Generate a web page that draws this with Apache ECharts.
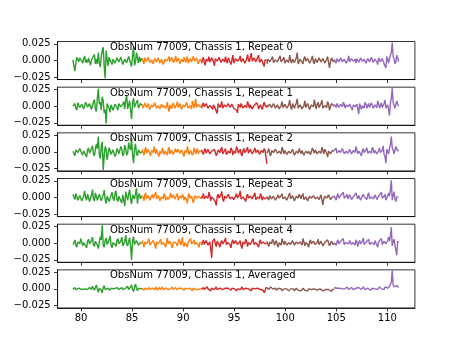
<!DOCTYPE html>
<html>
<head>
<meta charset="utf-8">
<script src="https://cdn.jsdelivr.net/npm/echarts@6/dist/echarts.min.js"></script>
<style>
html,body{margin:0;padding:0;background:#fff;}
#c{width:461px;height:346px;}
</style>
</head>
<body>
<div id="c"></div>
<script>
// ---- data (y values in units of 1e-3) ----
const PANEL_TITLES = [
  "ObsNum 77009, Chassis 1, Repeat 0",
  "ObsNum 77009, Chassis 1, Repeat 1",
  "ObsNum 77009, Chassis 1, Repeat 2",
  "ObsNum 77009, Chassis 1, Repeat 3",
  "ObsNum 77009, Chassis 1, Repeat 4",
  "ObsNum 77009, Chassis 1, Averaged"
];
const X_TICKS = [80, 85, 90, 95, 100, 105, 110];
const Y_TICKS = [-0.025, 0.000, 0.025];
const Y_UNIT = 1e-3;
// frequency band edges (green, orange, red, brown, purple)
const BAND_START = [79.2, 86.0, 91.8, 98.2, 104.8];
const BAND_END   = [86.0, 91.8, 98.2, 104.8, 111.1];

const rep0 = [
  [1,3,-16,-4,5,2,-2,4,6,-1,-4,2,7,-3,1,-3,4,-2,-7,1,3,-1,9,-5,2,-5,12,-3,-10,6,15,20,-8,-27,15,2,-8,5,4,-3,-6,2,3,-4,-5,4,6,-2,-3,5,5,-6,-8,2,4,-3,-2,6,8,-4,-9,7,21,-7,-3,12,4,-4,6,-2,3,1],
  [3,-2,-5,4,6,-1,-2,5,7,-3,-4,1,2,-5,-6,3,5,-2,-1,4,6,-4,-5,2,3,-6,-7,2,4,-1,0,3,6,-2,-4,5,2,-3,-5,1,7,-2,-3,4,4,-5,-6,2,1,-2,5,3,-3,-1,6,-4,-5,3,2,-2,-4,6,7,-1,-2,4,3,-5,-6,2,4,-1],
  [-4,1,5,-3,-7,2,2,-1,6,-2,-3,4,4,-2,-8,3,3,-1,-2,5,7,-3,-5,2,1,-2,6,-1,-4,4,3,-3,-6,1,8,-4,-2,3,5,-1,-3,2,7,-2,-1,3,4,-4,-5,2,9,1,-2,5,11,-1,-3,4,6,-2,-1,5,8,-3,-4,2,3,-5,-9,1,2,0],
  [-5,2,4,-2,-2,3,6,-3,-4,1,3,-2,-1,4,7,-2,-3,2,5,-4,-6,1,2,-3,8,1,-4,2,4,-3,-2,4,12,-5,-7,2,3,-2,-5,3,6,-1,-2,3,4,-4,-3,2,7,-2,-5,3,2,-3,-1,4,5,-2,-4,3,3,-4,-6,2,6,-3,-11,-2,4,1,-2,0],
  [2,-1,-4,3,5,-2,-1,4,6,-2,-3,2,3,-4,-5,1,7,-2,-2,3,4,-1,0,2,-4,3,5,-3,-2,4,6,-1,-3,2,2,-4,-5,3,4,-2,-1,5,7,-3,-3,2,3,-2,-6,4,5,-2,-2,3,4,-5,-3,-11,6,2,-4,3,5,12,27,6,3,-5,-2,8,4,-2]
];
const rep1 = [
  [0,2,4,-3,-6,5,7,-2,-2,3,5,-4,-4,6,8,-1,-3,4,6,-5,-5,7,10,-4,-8,12,26,3,6,-6,14,8,-10,-5,-26,4,5,-3,-9,2,4,-6,-5,3,3,-2,-6,4,5,-1,-2,3,7,-4,9,16,-4,2,8,-6,-19,5,12,-2,3,6,9,-3,-2,4,5,1],
  [2,-3,-4,5,6,-2,-3,4,5,-5,-7,2,3,-1,-1,5,7,-3,-5,1,2,-4,-6,3,4,-2,1,3,-3,-1,6,-4,-8,2,3,-4,-2,5,5,-3,-4,2,7,-2,-1,4,3,-5,-6,2,4,-1,-2,6,6,-3,-5,1,2,-4,8,3,-3,4,11,-2,-4,3,5,-1,-2,1],
  [-3,2,5,-1,-2,4,6,-3,-4,1,3,-2,-5,2,4,-4,-6,-11,4,3,-2,1,7,-3,-5,2,2,-1,-3,4,6,-2,-1,3,5,-3,-4,-2,-6,-10,3,1,-2,4,6,-3,-5,1,2,-2,7,3,-3,2,4,-4,-6,1,3,-1,5,2,-4,-2,2,4,-5,-3,6,1,-1,-2],
  [2,-1,-3,3,5,-2,-1,4,6,-3,-2,2,3,-4,-4,1,7,-2,0,3,4,-3,-3,2,9,-1,-5,4,6,-3,-2,5,11,-3,-4,2,3,-4,-6,1,8,-2,-2,4,5,-5,-7,2,3,-1,10,2,-4,3,6,-2,-3,4,9,-3,-5,1,2,-2,7,3,-6,-1,4,2,1,0],
  [3,1,-2,4,5,-2,-4,3,2,-1,6,3,-3,2,4,-1,-1,3,5,-3,-6,2,3,-1,-2,3,-4,-12,4,2,-5,1,2,-3,6,3,-3,1,4,-2,-2,5,7,-3,-4,2,3,-2,8,4,-3,1,5,-2,-2,4,9,-3,-4,2,-6,-14,5,12,27,6,5,-3,-2,8,3,0]
];
const rep2 = [
  [1,-2,-6,3,4,-1,-3,5,7,-2,-5,1,2,-4,-8,3,6,-2,-4,5,9,-3,-6,4,12,5,23,-4,-10,8,15,-27,-6,8,4,-12,-3,6,2,-4,-2,3,3,-7,-4,5,2,-3,-1,8,4,-6,-3,10,5,-5,-2,14,6,3,21,-5,-17,4,12,-2,-6,3,4,-2,-1,1],
  [4,-1,-5,3,7,-2,-2,4,5,-3,-6,2,3,-1,8,2,-3,4,5,-4,-7,1,2,-3,6,2,-4,1,3,-2,-5,4,7,-3,-2,3,4,-4,-6,2,5,-1,-3,4,6,-2,-1,3,3,-4,-7,2,4,-1,8,3,-4,-2,2,4,-5,-2,6,2,-3,1,5,-3,-2,2,3,0],
  [3,-1,-4,2,5,-2,-2,4,6,-3,-5,1,2,-1,4,3,-6,-2,3,1,-1,4,7,-3,-3,2,5,-4,-4,1,2,-2,6,3,-5,1,3,-2,8,4,-2,1,4,-3,-6,2,5,-1,-3,3,7,-2,-1,4,3,-3,-5,2,6,-1,-2,3,4,-4,-4,2,3,-1,5,2,-8,-18],
  [-2,1,5,-3,-6,2,3,-1,-1,4,6,-2,-4,1,2,-3,7,3,-3,2,4,-4,-5,1,3,-2,-2,4,6,-5,-6,1,2,-2,5,3,-3,2,4,-5,-7,1,3,-2,1,3,-4,-2,6,2,-2,3,4,-3,-5,1,3,-2,7,2,-3,4,5,-2,-8,1,2,-3,-4,2,3,1],
  [2,1,6,-2,-3,2,4,-1,-1,5,7,-3,-4,1,3,-2,-2,4,5,-3,-5,2,4,-1,8,3,-3,1,2,-3,-6,2,5,-1,-1,3,6,-2,-4,1,3,-2,7,4,-2,2,4,-3,-5,2,6,-1,-3,2,9,-4,-7,-17,4,2,-3,6,11,23,6,3,-3,2,8,4,2,1]
];
const rep3 = [
  [5,1,-3,6,8,-4,-6,3,4,-5,-7,2,10,-1,-4,5,6,-6,-8,3,12,-2,-5,7,9,-4,-3,5,7,-5,-6,4,11,-3,-9,2,4,-6,-7,3,8,-1,-5,6,10,-3,-6,2,3,-5,-8,4,6,-13,9,2,-4,5,12,-3,-10,4,5,-2,6,14,-9,3,6,-2,2,1],
  [3,-1,-5,4,7,-2,-2,3,4,-4,-6,2,5,-1,-3,4,8,-2,-1,3,4,-5,-7,1,2,-2,6,3,-4,1,3,-3,-5,2,7,-1,-3,4,5,-2,-2,3,6,-4,-6,2,3,-1,5,2,-4,1,2,-3,-9,3,6,-1,-3,2,4,-8,-8,3,5,-1,-2,2,3,1,-1,2],
  [-2,1,6,-2,-4,2,3,-1,8,3,-5,1,2,-2,-3,-6,-12,2,5,-1,-2,4,9,-3,-6,2,4,-1,-1,5,7,-2,-3,1,2,-3,-5,2,6,-1,-2,4,10,-2,-4,1,3,-3,-6,2,5,-1,-1,2,4,-2,-3,4,7,-3,-5,1,2,-2,6,3,-4,1,3,-2,-1,0],
  [2,-1,-4,3,5,-2,-1,2,3,-4,-6,1,4,-1,-2,3,6,-2,-3,1,2,-4,-5,3,7,-2,-1,3,4,-5,-6,2,3,-1,5,2,-2,3,6,-3,-4,1,2,-5,-7,2,4,-1,-1,3,5,-2,-3,1,2,-3,-4,4,6,-11,-2,2,3,-1,-2,4,5,-3,-5,1,2,1],
  [3,-1,-4,2,6,-1,-2,3,4,2,8,-1,-3,2,5,-2,-1,4,6,-3,-5,1,3,-1,7,2,-2,3,4,-4,-6,2,5,1,2,-1,-3,4,7,-2,-4,1,3,-2,-2,4,6,-3,-5,2,4,1,8,-1,-3,2,5,-4,-6,3,7,2,12,26,-4,3,9,-2,-6,1,3,1]
];
const rep4 = [
  [-2,1,5,-3,-6,2,3,-1,7,2,-4,1,2,-4,-7,3,6,-1,-3,4,9,-2,-5,3,4,-3,-8,2,10,5,27,-3,-6,4,8,-2,-4,5,11,-3,-7,1,3,-2,-5,4,7,-1,-2,3,9,-4,-6,2,12,-1,-4,3,8,-5,-25,3,10,-2,-3,4,6,-3,-5,1,2,0],
  [4,-2,-6,2,3,-1,-2,4,7,-3,-5,1,2,4,5,-3,-8,2,4,-1,-1,3,6,-2,-4,1,3,-3,-6,2,8,-1,-2,3,5,-4,-7,1,3,-1,1,2,-4,-2,6,3,-3,1,9,-2,-5,1,2,-3,-6,2,4,3,7,-1,-3,2,5,-2,-4,1,2,-3,-6,1,3,1],
  [-3,1,5,-2,-2,4,6,-3,-4,2,-8,-22,3,2,7,-1,-5,3,2,-2,-6,1,4,-1,-1,3,8,-2,-4,1,3,-3,-7,2,5,-1,-2,4,6,-2,-3,1,4,-4,-8,2,2,-1,6,3,-5,1,3,-2,-1,4,7,-2,-4,1,2,-3,-6,2,5,-1,-3,2,4,-1,1,0],
  [3,-1,-5,2,2,-1,6,3,-3,1,4,-2,-6,1,2,-3,7,2,-2,3,5,-3,-4,1,3,-2,-1,4,6,-3,-5,2,4,-1,-3,2,2,-3,7,2,-4,1,3,-2,-6,2,5,-1,-2,3,4,-2,-3,1,6,-2,-1,3,3,-4,-5,1,2,-1,5,3,-4,-2,3,1,-2,0],
  [1,-1,-3,2,5,-1,-2,3,4,1,7,-2,-4,1,3,-1,-1,4,6,-2,-3,1,2,-3,5,2,-5,1,4,-1,-2,3,8,-2,-3,1,3,2,6,-2,-4,1,2,-1,-2,4,5,-3,-6,2,4,1,7,-2,-3,3,5,-1,-2,4,9,3,11,24,-4,2,6,-3,-10,-18,3,1]
];
const avg = [
  [-1,0,2,-1,-3,1,1,0,3,-1,-2,1,0,1,2,-1,-3,2,1,-1,4,1,-2,2,6,0,-5,1,3,-2,-6,2,5,-1,-2,1,1,-2,-3,1,2,0,0,-1,-2,2,3,-1,-1,1,2,-1,-3,0,1,2,4,-1,-2,3,6,-1,-4,2,7,1,-3,1,2,0,0,1],
  [1,0,-2,1,3,0,-1,1,2,-1,-3,0,1,1,0,-1,3,1,-2,0,2,0,-1,1,3,-1,-3,0,1,2,2,-1,-2,0,0,1,3,-1,-1,1,2,-1,-3,0,1,0,-1,1,2,-1,-2,1,3,0,0,-1,-2,1,1,-1,-3,1,2,0,-1,1,1,-1,-2,1,0,0],
  [-1,0,2,-1,-2,1,3,0,0,-1,-3,1,2,0,-1,1,3,-1,-2,0,1,1,2,-1,-3,0,1,-1,-1,1,3,0,-2,1,2,-1,0,1,-3,0,2,-1,-1,1,3,-1,-2,0,1,1,-1,0,2,-1,-3,1,2,0,0,-1,-2,1,3,0,-1,1,1,-2,-6,-3,2,1],
  [2,1,-1,0,3,1,0,-1,2,1,-2,0,1,-1,2,0,-3,-1,0,-2,1,0,-1,-3,-1,0,-2,-1,0,-3,-2,1,-1,-2,0,-1,-3,-1,1,0,-2,-1,-1,-3,0,1,-2,-1,-1,-3,0,-1,1,-2,-3,-1,0,-2,-1,-3,-4,-1,-1,-2,1,-1,-3,-2,-4,-1,0,0],
  [2,1,0,1,3,2,1,-1,-1,0,2,1,0,2,3,1,-1,0,1,2,2,-1,-2,0,1,1,0,2,1,0,-1,1,3,2,-1,0,0,1,2,-1,-2,0,1,2,1,0,2,-1,-1,1,3,1,0,1,2,-1,3,1,2,1,3,4,5,10,28,6,3,1,2,5,4,2]
];
const PANELS = [rep0, rep1, rep2, rep3, rep4, avg];

// ---- styling / layout ----
const BAND_COLORS = ['#2ca02c', '#ff7f0e', '#d62728', '#8c564b', '#9467bd'];
const FONT = 'DejaVu Sans';
const LEFT = 57.6, WIDTH = 357.3, TOP0 = 41.5, H = 38.06, GAP = 7.61;

const grids = [], xAxes = [], yAxes = [], series = [], titles = [];
PANELS.forEach((bands, p) => {
  const top = TOP0 + p * (H + GAP);
  grids.push({left: LEFT, top: top, width: WIDTH, height: H, show: true,
    borderColor: '#000', borderWidth: 0.8, backgroundColor: 'transparent'});
  const last = p === PANELS.length - 1;
  xAxes.push({type: 'value', gridIndex: p, min: 77.7, max: 112.7,
    splitLine: {show: false},
    axisLine: {show: true, onZero: false, lineStyle: {color: '#000', width: 0.8}},
    axisTick: {show: true, inside: false, length: 3.5, customValues: X_TICKS,
      lineStyle: {color: '#000', width: 0.8}},
    axisLabel: {show: last, customValues: X_TICKS, margin: 5.5, color: '#000',
      fontFamily: FONT, fontSize: 10}
  });
  yAxes.push({type: 'value', gridIndex: p, min: -0.0285, max: 0.0285,
    splitLine: {show: false},
    axisLine: {show: true, lineStyle: {color: '#000', width: 0.8}},
    axisTick: {show: true, inside: false, length: 3.5, customValues: Y_TICKS,
      lineStyle: {color: '#000', width: 0.8}},
    axisLabel: {show: true, customValues: Y_TICKS, margin: 7, color: '#000',
      fontFamily: FONT, fontSize: 10,
      formatter: v => (Math.abs(v) < 1e-9 ? 0 : v).toFixed(3).replace('-', '\u2212')}
  });
  bands.forEach((vals, b) => {
    const x0 = BAND_START[b], x1 = BAND_END[b];
    const step = (x1 - x0) / (vals.length - 1);
    series.push({type: 'line', xAxisIndex: p, yAxisIndex: p,
      showSymbol: false, symbol: 'none', animation: false, clip: true,
      lineStyle: {color: BAND_COLORS[b], width: 1.4},
      itemStyle: {color: BAND_COLORS[b]},
      data: vals.map((v, i) => [x0 + i * step, v * Y_UNIT])
    });
  });
  titles.push({text: PANEL_TITLES[p], left: 110, top: top + 1, padding: 0,
    textStyle: {fontFamily: FONT, fontSize: 10, fontWeight: 'normal', color: '#000'}});
});

const chart = echarts.init(document.getElementById('c'), null, {renderer: 'canvas'});
chart.setOption({
  animation: false,
  backgroundColor: '#fff',
  title: titles,
  grid: grids,
  xAxis: xAxes,
  yAxis: yAxes,
  series: series
});
</script>
</body>
</html>
